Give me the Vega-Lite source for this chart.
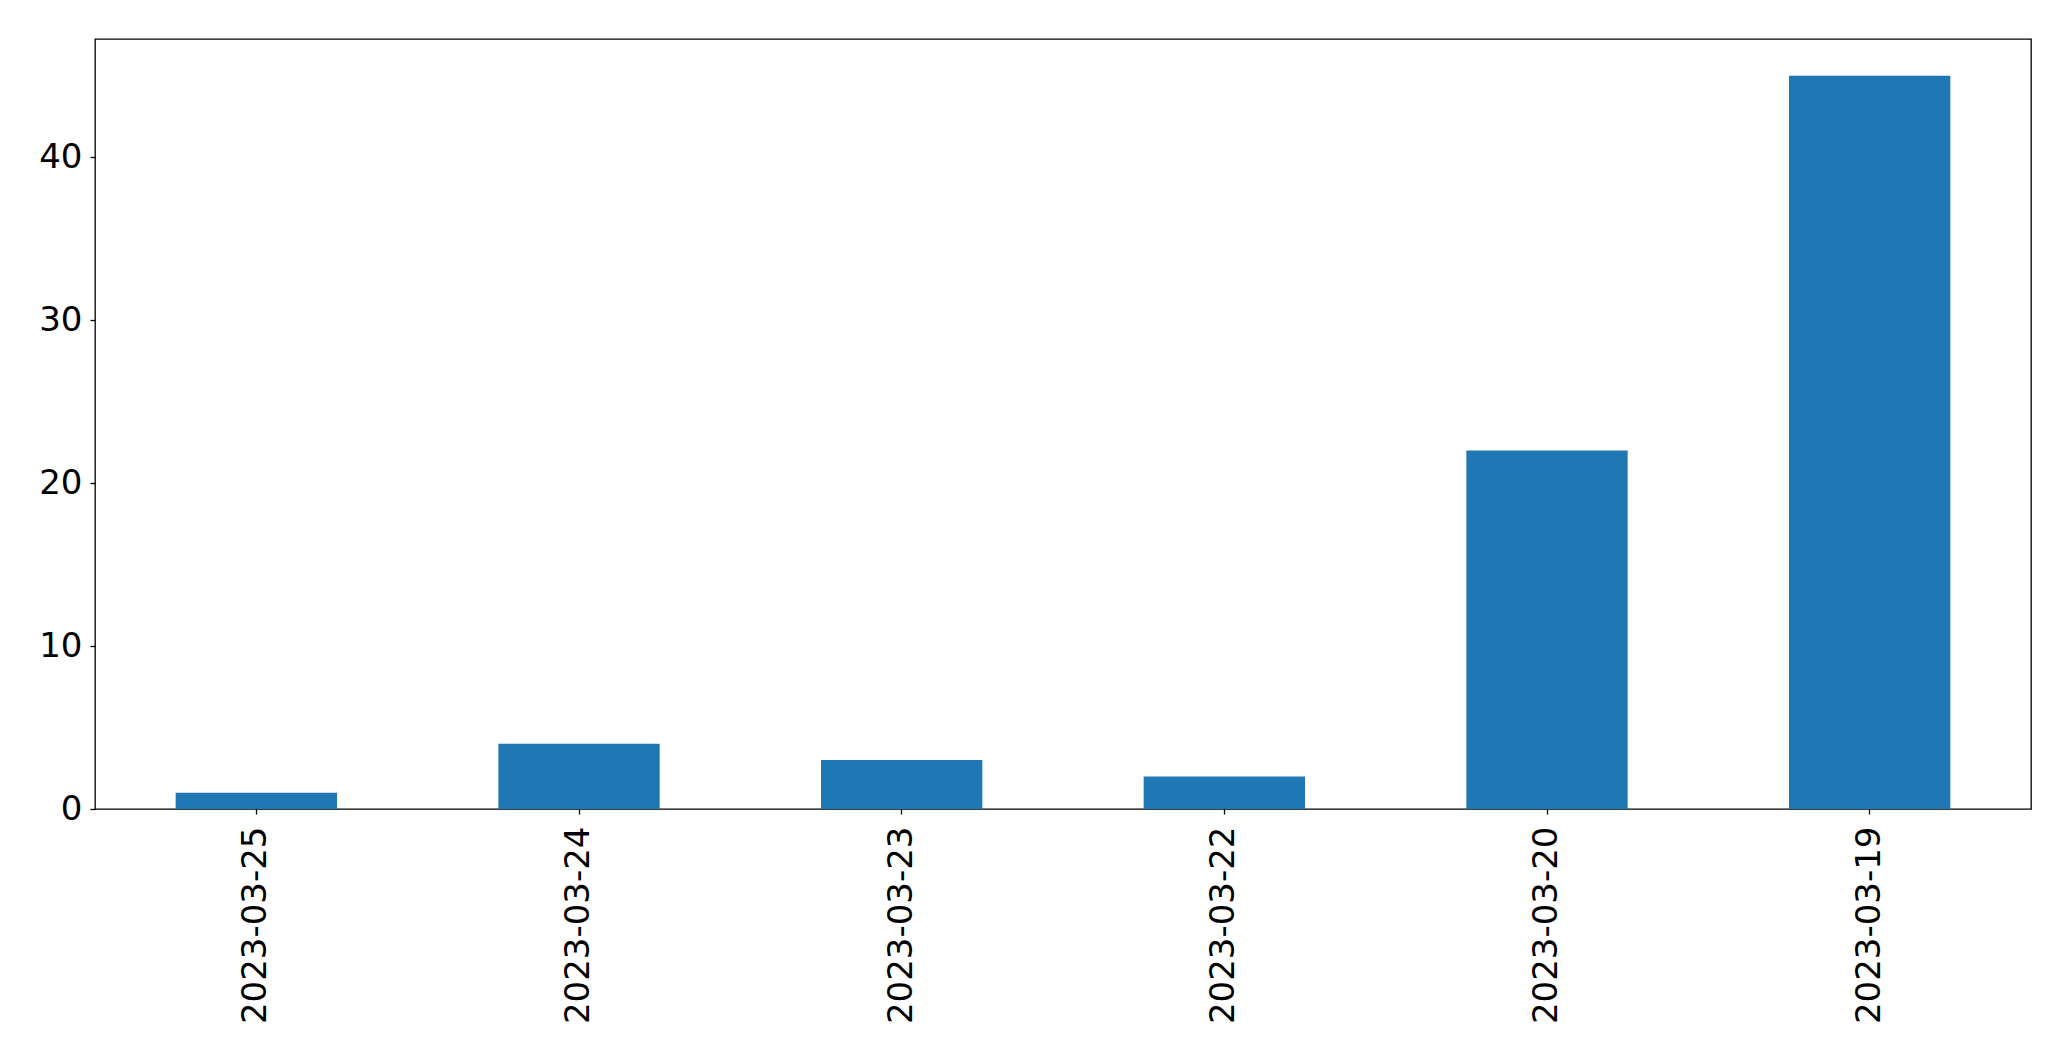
{
  "$schema": "https://vega.github.io/schema/vega-lite/v6.json",
  "autosize": {"type": "none"},
  "padding": {"left": 95, "top": 39, "right": 40, "bottom": 252},
  "width": 1936,
  "height": 770,
  "background": "white",
  "data": {
    "values": [
      {"date": "2023-03-25", "count": 1},
      {"date": "2023-03-24", "count": 4},
      {"date": "2023-03-23", "count": 3},
      {"date": "2023-03-22", "count": 2},
      {"date": "2023-03-20", "count": 22},
      {"date": "2023-03-19", "count": 45}
    ]
  },
  "mark": {"type": "bar", "color": "#1f77b4"},
  "encoding": {
    "x": {
      "field": "date",
      "type": "nominal",
      "sort": null,
      "scale": {"paddingInner": 0.5, "paddingOuter": 0.25},
      "axis": {"title": null, "labelAngle": -90, "labelAlign": "right", "labelBaseline": "middle", "labelPadding": 12, "labelLimit": 0}
    },
    "y": {
      "field": "count",
      "type": "quantitative",
      "scale": {"domain": [0, 47.25], "nice": false, "zero": true},
      "axis": {"title": null, "values": [0, 10, 20, 30, 40], "labelPadding": 8}
    }
  },
  "config": {
    "view": {"stroke": "black", "strokeWidth": 1.3},
    "axis": {
      "domain": false,
      "grid": false,
      "ticks": true,
      "tickColor": "black",
      "tickSize": 5,
      "tickWidth": 1.3,
      "labelFont": "DejaVu Sans",
      "labelFontSize": 34,
      "labelColor": "black"
    }
  }
}
